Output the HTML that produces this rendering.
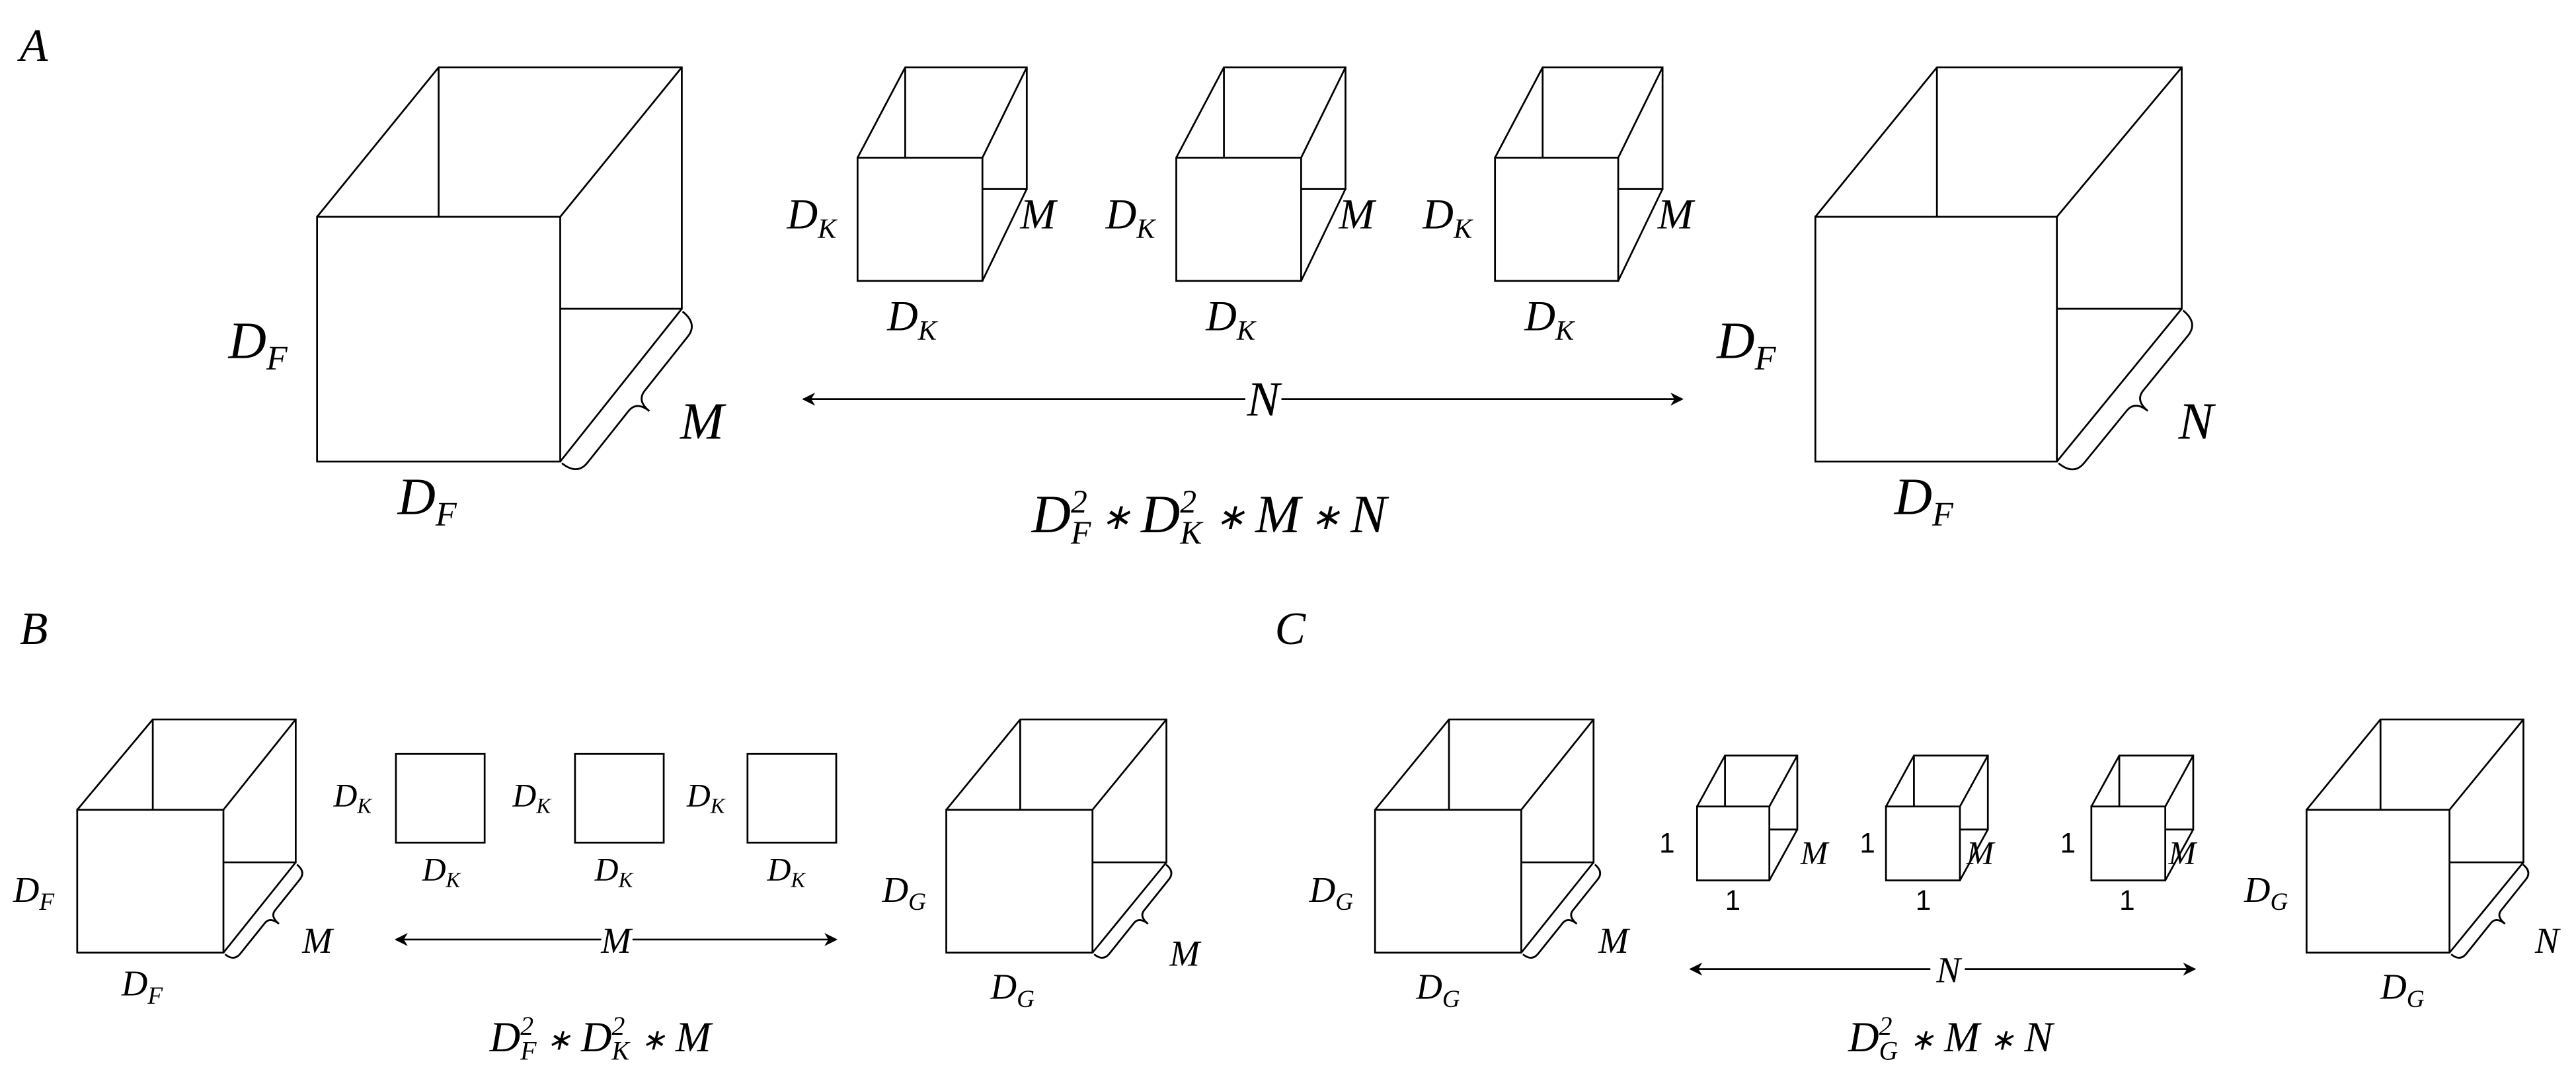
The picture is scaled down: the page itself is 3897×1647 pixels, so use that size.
<!DOCTYPE html>
<html><head><meta charset="utf-8"><style>
html,body{margin:0;padding:0;background:#fff;}
svg{display:block;}
text{font-family:"Liberation Serif",serif;font-style:italic;fill:#000;}
.u{font-family:"Liberation Sans",sans-serif;font-style:normal;}
</style></head><body>
<svg width="3897" height="1647" viewBox="0 0 1568 663" preserveAspectRatio="none" xmlns="http://www.w3.org/2000/svg">
<defs>
<marker id="ah" viewBox="0 0 10 10" refX="9" refY="5" markerWidth="8" markerHeight="8" markerUnits="userSpaceOnUse" orient="auto"><path d="M0,0 L10,5 L0,10 L3,5 Z" fill="#000"/></marker>
</defs>
<g fill="none" stroke="#000" stroke-width="1.1">
<rect x="193" y="132" width="148" height="149"/>
<path d="M193,132 L267,41 L415,41 L415,188 L341,188 M267,41 L267,132 M341,132 L415,41 M341,281 L415,188"/>
<rect x="1105" y="132" width="147" height="149"/>
<path d="M1105,132 L1179,41 L1328,41 L1328,188 L1252,188 M1179,41 L1179,132 M1252,132 L1328,41 M1252,281 L1328,188"/>
<rect x="522" y="96" width="76" height="75"/>
<path d="M522,96 L551,41 L625,41 L625,115 L598,115 M551,41 L551,96 M598,96 L625,41 M598,171 L625,115"/>
<rect x="716" y="96" width="76" height="75"/>
<path d="M716,96 L745,41 L819,41 L819,115 L792,115 M745,41 L745,96 M792,96 L819,41 M792,171 L819,115"/>
<rect x="910" y="96" width="75" height="75"/>
<path d="M910,96 L939,41 L1012,41 L1012,115 L985,115 M939,41 L939,96 M985,96 L1012,41 M985,171 L1012,115"/>
<rect x="47" y="493" width="89" height="87"/>
<path d="M47,493 L93,438 L180,438 L180,525 L136,525 M93,438 L93,493 M136,493 L180,438 M136,580 L180,525"/>
<rect x="576" y="493" width="89" height="87"/>
<path d="M576,493 L621,438 L710,438 L710,525 L665,525 M621,438 L621,493 M665,493 L710,438 M665,580 L710,525"/>
<rect x="241" y="459" width="54" height="54"/>
<rect x="350" y="459" width="54" height="54"/>
<rect x="455" y="459" width="54" height="54"/>
<rect x="837" y="493" width="89" height="87"/>
<path d="M837,493 L882,438 L970,438 L970,525 L926,525 M882,438 L882,493 M926,493 L970,438 M926,580 L970,525"/>
<rect x="1404" y="493" width="87" height="87"/>
<path d="M1404,493 L1449,438 L1536,438 L1536,525 L1491,525 M1449,438 L1449,493 M1491,493 L1536,438 M1491,580 L1536,525"/>
<rect x="1033" y="491" width="44" height="45"/>
<path d="M1033,491 L1050,460 L1094,460 L1094,505 L1077,505 M1050,460 L1050,491 M1077,491 L1094,460 M1077,536 L1094,505"/>
<rect x="1148" y="491" width="45" height="45"/>
<path d="M1148,491 L1165,460 L1210,460 L1210,505 L1193,505 M1165,460 L1165,491 M1193,491 L1210,460 M1193,536 L1210,505"/>
<rect x="1273" y="491" width="45" height="45"/>
<path d="M1273,491 L1290,460 L1335,460 L1335,505 L1318,505 M1290,460 L1290,491 M1318,491 L1335,460 M1318,536 L1335,505"/>
<!-- braces -->
<g transform="translate(342,282) rotate(-51.5)"><path d="M0,0 Q0,12 10,12 L50,12 Q58,12 58,22 Q58,12 66,12 L108,12 Q118,12 118,0"/></g>
<g transform="translate(1253,282) rotate(-50.8)"><path d="M0,0 Q0,12 10,12 L51,12 Q59,12 59,22 Q59,12 67,12 L110,12 Q120,12 120,0"/></g>
<g transform="translate(137,581) rotate(-51.3)"><path d="M0,0 Q0,7 6,7 L30,7 Q35,7 35,14 Q35,7 40,7 L64,7 Q70,7 70,0"/></g>
<g transform="translate(666,581) rotate(-51.3)"><path d="M0,0 Q0,7 6,7 L30,7 Q35,7 35,14 Q35,7 40,7 L64,7 Q70,7 70,0"/></g>
<g transform="translate(927,581) rotate(-51.3)"><path d="M0,0 Q0,7 6,7 L30,7 Q35,7 35,14 Q35,7 40,7 L64,7 Q70,7 70,0"/></g>
<g transform="translate(1492,581) rotate(-51.3)"><path d="M0,0 Q0,7 6,7 L30,7 Q35,7 35,14 Q35,7 40,7 L64,7 Q70,7 70,0"/></g>
<path d="M758,243 L489,243" marker-end="url(#ah)"/>
<path d="M780,243 L1024,243" marker-end="url(#ah)"/>
<path d="M366,572 L241,572" marker-end="url(#ah)"/>
<path d="M385,572 L509,572" marker-end="url(#ah)"/>
<path d="M1175,590 L1029,590" marker-end="url(#ah)"/>
<path d="M1196,590 L1336,590" marker-end="url(#ah)"/>
</g>
<text x="12" y="37" font-size="28">A</text>
<text x="12" y="392" font-size="28">B</text>
<text x="776" y="392" font-size="28">C</text>
<text x="139" y="218" font-size="32">D<tspan font-size="21" dy="7">F</tspan></text>
<text x="242" y="313" font-size="32">D<tspan font-size="21" dy="7">F</tspan></text>
<text x="414" y="267" font-size="32">M</text>
<text x="1045" y="218" font-size="32">D<tspan font-size="21" dy="7">F</tspan></text>
<text x="1153" y="313" font-size="32">D<tspan font-size="21" dy="7">F</tspan></text>
<text x="1326" y="267" font-size="32">N</text>
<text x="479" y="139" font-size="26">D<tspan font-size="17" dy="6">K</tspan></text>
<text x="673" y="139" font-size="26">D<tspan font-size="17" dy="6">K</tspan></text>
<text x="866" y="139" font-size="26">D<tspan font-size="17" dy="6">K</tspan></text>
<text x="540" y="201" font-size="26">D<tspan font-size="17" dy="6">K</tspan></text>
<text x="734" y="201" font-size="26">D<tspan font-size="17" dy="6">K</tspan></text>
<text x="928" y="201" font-size="26">D<tspan font-size="17" dy="6">K</tspan></text>
<text x="621" y="139" font-size="26">M</text>
<text x="815" y="139" font-size="26">M</text>
<text x="1009" y="139" font-size="26">M</text>
<text x="769" y="253" font-size="30" text-anchor="middle">N</text>
<text x="628" y="324" font-size="33">D<tspan font-size="20" dy="-12">2</tspan><tspan font-size="20" dx="-10" dy="19">F</tspan><tspan font-size="22" dx="6" dy="-9">∗</tspan><tspan font-size="33" dx="6" dy="2">D</tspan><tspan font-size="20" dy="-12">2</tspan><tspan font-size="20" dx="-10" dy="19">K</tspan><tspan font-size="22" dx="8" dy="-9">∗</tspan><tspan font-size="33" dx="6" dy="2">M</tspan><tspan font-size="22" dx="6" dy="-2">∗</tspan><tspan font-size="33" dx="6" dy="2">N</tspan></text>
<text x="8" y="549" font-size="22">D<tspan font-size="15" dy="5">F</tspan></text>
<text x="74" y="606" font-size="22">D<tspan font-size="15" dy="5">F</tspan></text>
<text x="184" y="580" font-size="22">M</text>
<text x="203" y="491" font-size="20">D<tspan font-size="13" dy="4">K</tspan></text>
<text x="312" y="491" font-size="20">D<tspan font-size="13" dy="4">K</tspan></text>
<text x="418" y="491" font-size="20">D<tspan font-size="13" dy="4">K</tspan></text>
<text x="257" y="536" font-size="20">D<tspan font-size="13" dy="4">K</tspan></text>
<text x="362" y="536" font-size="20">D<tspan font-size="13" dy="4">K</tspan></text>
<text x="467" y="536" font-size="20">D<tspan font-size="13" dy="4">K</tspan></text>
<text x="375" y="580" font-size="22" text-anchor="middle">M</text>
<text x="537" y="549" font-size="22">D<tspan font-size="15" dy="5">G</tspan></text>
<text x="603" y="608" font-size="22">D<tspan font-size="15" dy="5">G</tspan></text>
<text x="712" y="588" font-size="22">M</text>
<text x="298" y="640" font-size="26">D<tspan font-size="16" dy="-10">2</tspan><tspan font-size="16" dx="-8" dy="15">F</tspan><tspan font-size="18" dx="6" dy="-6">∗</tspan><tspan font-size="26" dx="6" dy="1">D</tspan><tspan font-size="16" dy="-10">2</tspan><tspan font-size="16" dx="-8" dy="15">K</tspan><tspan font-size="18" dx="7" dy="-6">∗</tspan><tspan font-size="26" dx="6" dy="1">M</tspan></text>
<text x="797" y="549" font-size="22">D<tspan font-size="15" dy="5">G</tspan></text>
<text x="862" y="608" font-size="22">D<tspan font-size="15" dy="5">G</tspan></text>
<text x="973" y="580" font-size="22">M</text>
<text x="1366" y="549" font-size="22">D<tspan font-size="15" dy="5">G</tspan></text>
<text x="1449" y="608" font-size="22">D<tspan font-size="15" dy="5">G</tspan></text>
<text x="1543" y="580" font-size="22">N</text>
<text class="u" x="1010" y="519" font-size="17">1</text>
<text class="u" x="1132" y="519" font-size="17">1</text>
<text class="u" x="1254" y="519" font-size="17">1</text>
<text class="u" x="1050" y="554" font-size="17">1</text>
<text class="u" x="1166" y="554" font-size="17">1</text>
<text class="u" x="1290" y="554" font-size="17">1</text>
<text x="1096" y="526" font-size="20">M</text>
<text x="1197" y="526" font-size="20">M</text>
<text x="1320" y="526" font-size="20">M</text>
<text x="1186" y="598" font-size="22" text-anchor="middle">N</text>
<text x="1125" y="640" font-size="26">D<tspan font-size="16" dy="-10">2</tspan><tspan font-size="16" dx="-8" dy="15">G</tspan><tspan font-size="18" dx="7" dy="-6">∗</tspan><tspan font-size="26" dx="6" dy="1">M</tspan><tspan font-size="18" dx="6" dy="-1">∗</tspan><tspan font-size="26" dx="6" dy="1">N</tspan></text>
</svg>
</body></html>
